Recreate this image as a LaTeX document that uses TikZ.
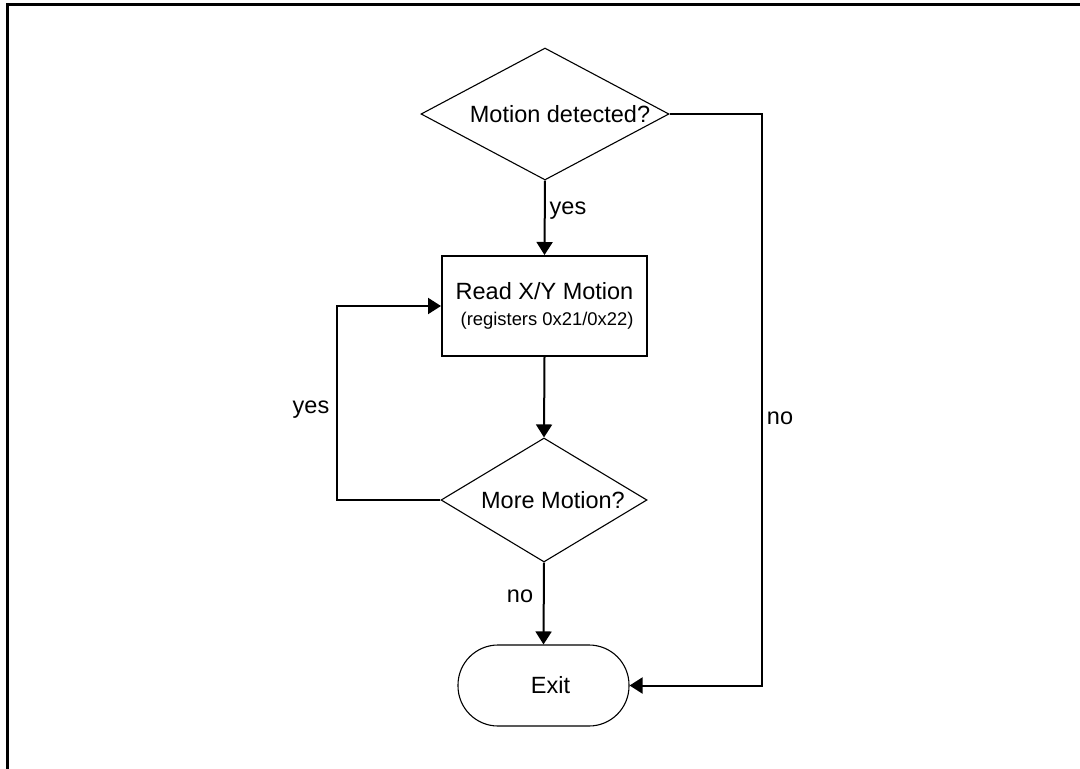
\documentclass[tikz,border=0pt]{standalone}
\usepackage{fontspec}
\setmainfont{Liberation Sans}
\usetikzlibrary{shapes.geometric,arrows.meta}
\begin{document}
\begin{tikzpicture}[x=1pt,y=-1pt,
  every node/.style={font=\fontsize{23.5}{28}\selectfont},
  dec/.style={diamond,draw,line width=1.1pt,inner sep=0pt},
  procbox/.style={rectangle,draw,line width=2pt,minimum width=205pt,minimum height=100pt,inner sep=0pt,align=center},
  term/.style={rectangle,draw,line width=1.1pt,rounded corners=40pt,minimum width=171pt,minimum height=81pt,inner sep=0pt},
  conn/.style={line width=2pt,-{Triangle[width=16pt,length=13pt]}},
  lbl/.style={inner sep=0pt}]
\useasboundingbox (0,0) rectangle (1080,769);
\draw[line width=3pt] (7,769) -- (7,4.5) -- (1080,4.5);

\node[dec,minimum width=248pt,minimum height=132pt,label={[xshift=15pt]center:Motion detected?}] (d1) at (545,114) {};
\node[procbox] (box) at (544.5,306) {Read X/Y Motion\\[-2pt]{\fontsize{18.4}{22}\selectfont\ (registers 0x21/0x22)}};
\node[dec,minimum width=206pt,minimum height=124pt,label={[xshift=9pt]center:More Motion?}] (d2) at (544,500) {};
\node[term,label={[xshift=7pt]center:Exit}] (exit) at (543.5,685.5) {};

\coordinate (r1) at (762,114);
\coordinate (r2) at (762,685.5);
\coordinate (l1) at (337,500);
\coordinate (l2) at (337,306);

\draw[conn] (d1.south) -- (box.north);
\draw[conn] (box.south) -- (d2.north);
\draw[conn] (d2.south) -- (exit.north);
\draw[conn] (d1.east) -- (r1) -- (r2) -- (exit.east);
\draw[conn] (d2.west) -- (l1) -- (l2) -- (box.west);

\node[lbl] (y1) at (568,211) {yes};
\node[lbl] (y2) at (311,410) {yes};
\node[lbl] (n1) at (780,418) {no};
\node[lbl] (n2) at (520,596) {no};
\end{tikzpicture}
\end{document}
